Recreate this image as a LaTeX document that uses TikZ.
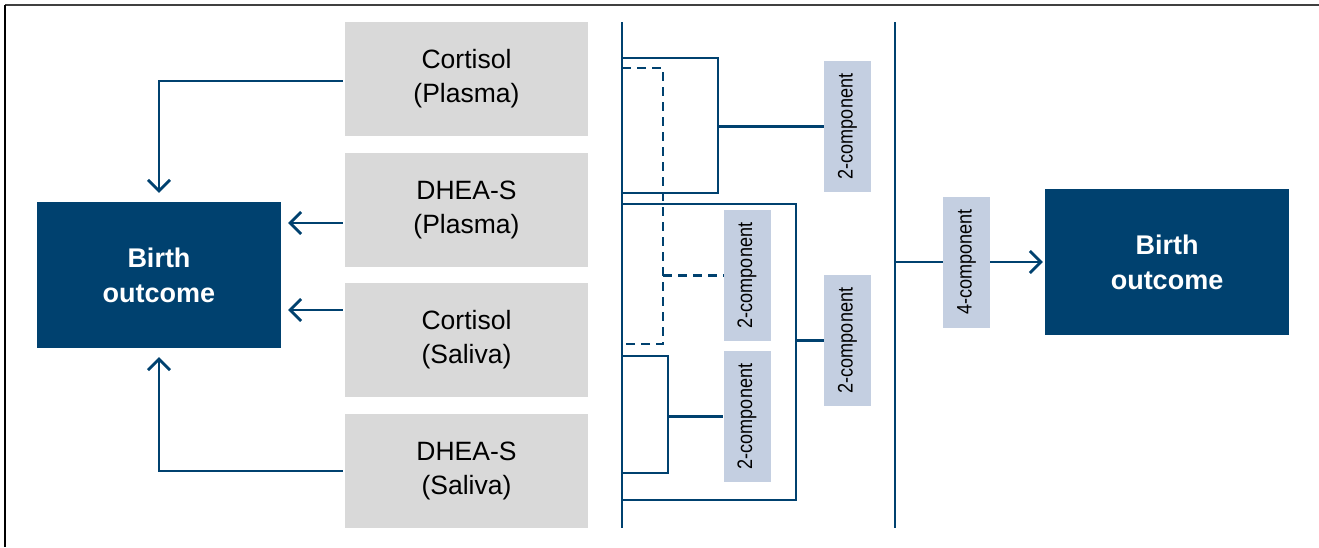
\documentclass[tikz,border=0pt]{standalone}
\usepackage{fontspec}
\setmainfont{Liberation Sans}
\newfontfamily\tagfont{Liberation Sans}[FakeStretch=0.86]
\usetikzlibrary{arrows.meta}
\definecolor{navy}{HTML}{00416F}
\definecolor{boxgrey}{HTML}{D9D9D9}
\definecolor{tagblue}{HTML}{C4CFE1}
\begin{document}
\begin{tikzpicture}[x=1pt,y=-1pt,
  hormone/.style={fill=boxgrey, minimum width=243pt, minimum height=114pt,
    inner sep=0pt, align=center, font=\fontsize{26.5}{34}\selectfont},
  outcome/.style={fill=navy, text=white, minimum width=244pt, minimum height=146pt,
    inner sep=0pt, align=center, font=\bfseries\fontsize{27}{35}\selectfont},
  tag/.style={fill=tagblue, minimum width=47pt, minimum height=131pt,
    inner sep=0pt, font=\tagfont\fontsize{21}{22}\selectfont},
  link/.style={draw=navy, line width=2.8pt},
  guess/.style={link, dash pattern=on 9pt off 6pt},
  arr/.style={link, -{Straight Barb[length=11pt,width=22pt]}}
]
\path[use as bounding box] (0,0) rectangle (1319,547);

% frame
\draw[line width=1.5pt, black!75] (5,5) -- (1319,5);
\draw[line width=1.2pt, black] (5,5) -- (5,547);

% hormone measures
\node[hormone] (g1) at (466.5,79)  {Cortisol\\(Plasma)};
\node[hormone] (g2) at (466.5,210) {DHEA-S\\(Plasma)};
\node[hormone] (g3) at (466.5,340) {Cortisol\\(Saliva)};
\node[hormone] (g4) at (466.5,471) {DHEA-S\\(Saliva)};

% outcomes
\node[outcome] (L) at (159,275)  {Birth\\outcome};
\node[outcome] (R) at (1167,262) {Birth\\outcome};

% component tags
\node[tag] (c1) at (847.5,126.5) {\rotatebox{90}{2-component}};
\node[tag] (c2) at (747,275.5)   {\rotatebox{90}{2-component}};
\node[tag] (c3) at (747,416.5)   {\rotatebox{90}{2-component}};
\node[tag] (c4) at (847.5,340.5) {\rotatebox{90}{2-component}};
\node[tag] (c5) at (966.5,262)   {\rotatebox{90}{4-component}};

% single-measure models
\draw[arr, shorten <=2pt, shorten >=9pt] ([yshift=-2pt]g1.west) -| (L.north);
\draw[arr, shorten <=2pt, shorten >=7pt] ([yshift=-13pt]g2.west) -- ([yshift=-13pt]g2.west -| L.east);
\draw[arr, shorten <=2pt, shorten >=7pt] ([yshift=30pt]g3.west) -- ([yshift=30pt]g3.west -| L.east);
\draw[arr, shorten <=2pt, shorten >=9pt] (g4.west) -| (L.south);

% combination spine
\coordinate (s1) at (622,22);
\coordinate (s2) at (622,528);
\draw[link] (s1) -- (s2);

% plasma pair
\coordinate (a1) at (622,58);
\coordinate (a2) at (718,193);
\draw[link, line join=miter] (a1) -| (a2) -- (a2 -| s1);
\draw[link] (a2 |- c1.west) -- (c1.west);

% cortisol pair
\coordinate (b1) at (622,68);
\coordinate (b2) at (663,344);
\draw[guess] (b1) -| (b2) -- (b2 -| s1);
\draw[guess] (b2 |- c2.west) -- (c2.west);

% saliva pair
\coordinate (d1) at (622,356);
\coordinate (d2) at (668,473);
\draw[link, line join=miter] (d1) -| (d2) -- (d2 -| s1);
\draw[link] (d2 |- c3.west) -- (c3.west);

% DHEA-S pair
\coordinate (e1) at (622,204);
\coordinate (e2) at (796,500);
\draw[link, line join=miter] (e1) -| (e2) -- (e2 -| s1);
\draw[link] (e2 |- c4.west) -- (c4.west);

% four-component model
\coordinate (t1) at (895,22);
\coordinate (t2) at (895,528);
\draw[link] (t1) -- (t2);
\draw[link] (c5.west -| t1) -- (c5.west);
\draw[arr, shorten >=2pt] (c5.east) -- (c5.east -| R.west);
\end{tikzpicture}
\end{document}
